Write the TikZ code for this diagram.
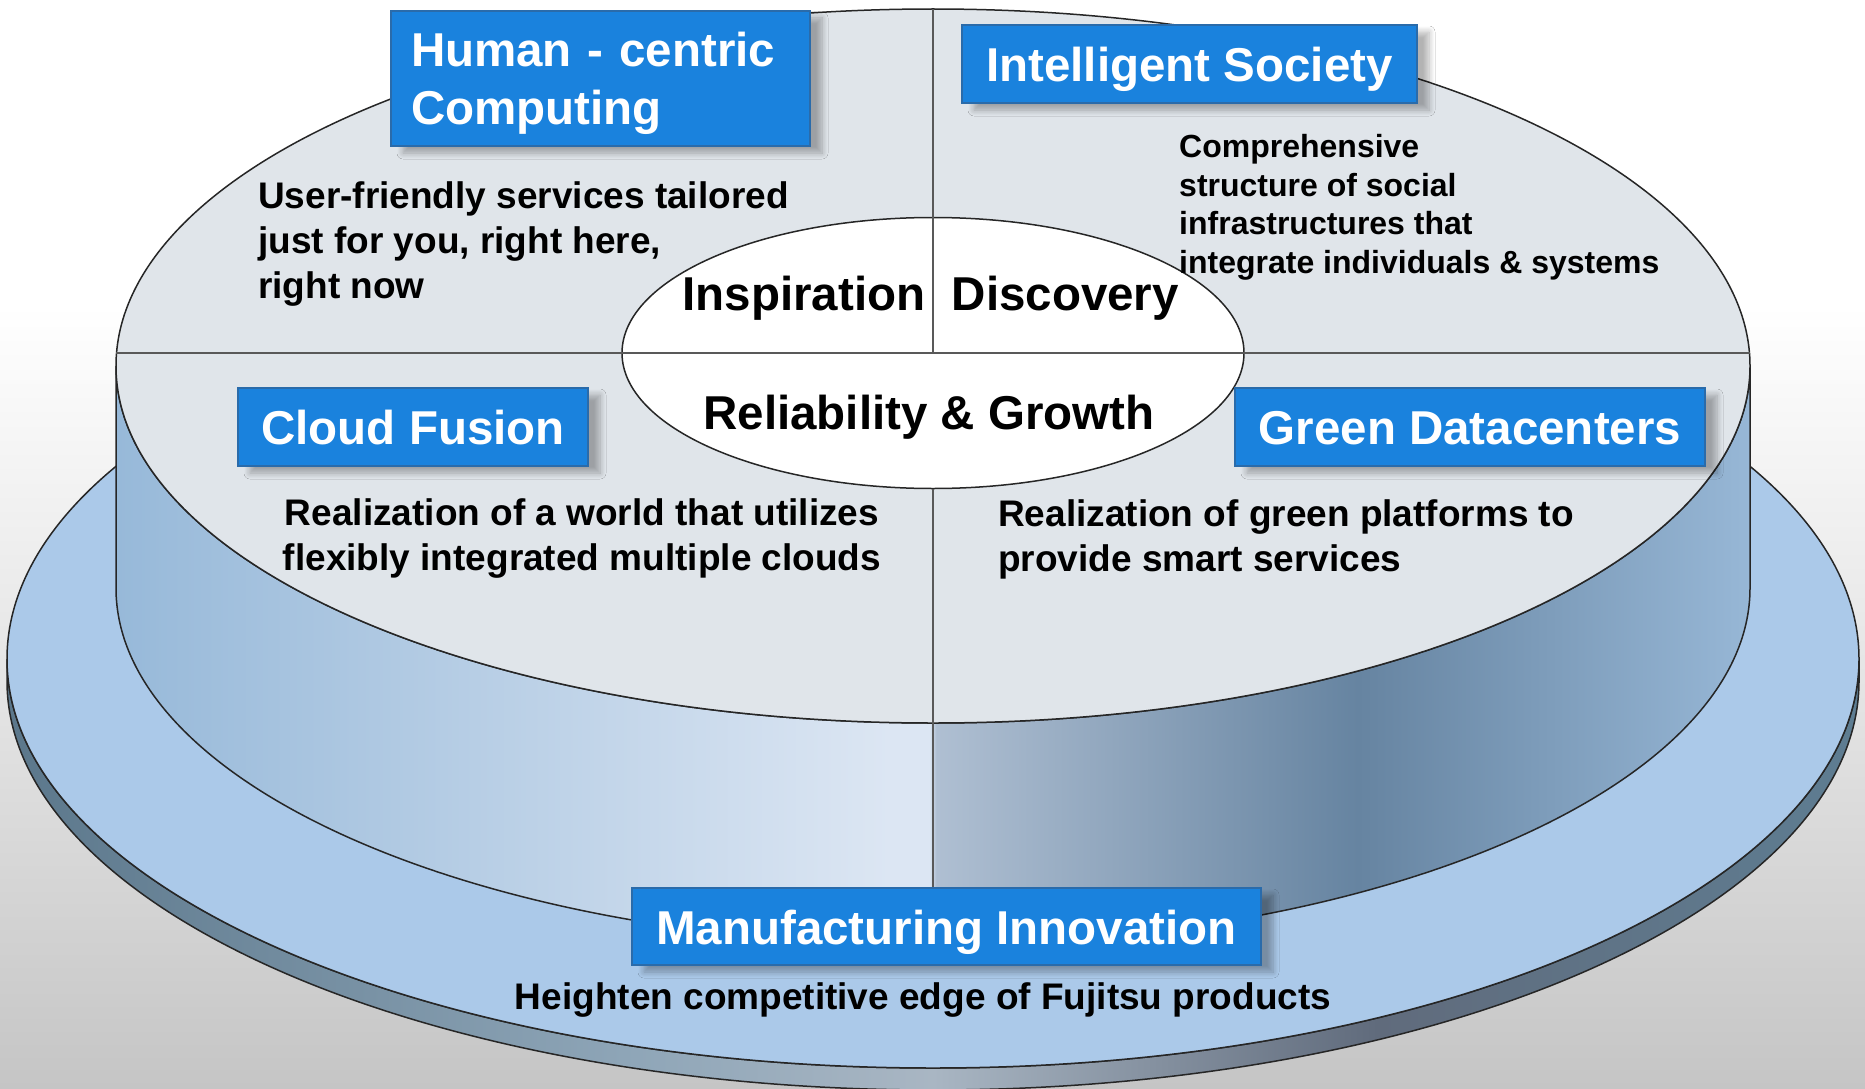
\documentclass[tikz,border=0pt]{standalone}
\usepackage{fontspec}
\setmainfont{Liberation Sans}
\usetikzlibrary{positioning,shadows.blur}

\definecolor{boxblue}{HTML}{1A82DD}
\definecolor{boxedge}{HTML}{2A6BAA}
\definecolor{facegray}{HTML}{E0E5EA}
\definecolor{diskblue}{HTML}{ABC9E9}
\definecolor{sideA}{HTML}{97B9D9}
\definecolor{sideB}{HTML}{DCE6F3}
\definecolor{sideC}{HTML}{AFBFD2}
\definecolor{sideD}{HTML}{6684A1}
\definecolor{sideE}{HTML}{97B7D6}
\definecolor{rimA}{HTML}{5B778B}
\definecolor{rimB}{HTML}{8FA6B8}
\definecolor{rimC}{HTML}{A9B6C3}
\definecolor{rimD}{HTML}{606B7C}
\definecolor{rimE}{HTML}{5E7D92}
\definecolor{bgB}{HTML}{E2E2E2}
\definecolor{bgC}{HTML}{C5C5C5}

\pgfdeclarehorizontalshading{sideshade}{100bp}{color(0bp)=(sideA); color(25bp)=(sideA); color(48.7bp)=(sideB); color(49.9bp)=(sideB); color(50.1bp)=(sideC); color(63bp)=(sideD); color(75bp)=(sideE); color(100bp)=(sideE)}
\pgfdeclarehorizontalshading{rimshade}{100bp}{color(0bp)=(rimA); color(25bp)=(rimA); color(42bp)=(rimB); color(50bp)=(rimC); color(62bp)=(rimD); color(75bp)=(rimE); color(100bp)=(rimE)}
\pgfdeclareverticalshading{bgshade}{100bp}{color(0bp)=(bgC); color(25bp)=(bgC); color(42bp)=(bgB); color(61bp)=(white); color(100bp)=(white)}

\newcommand{\ttlfont}{\fontsize{47.5}{58}\selectfont\bfseries}
\newcommand{\dscfont}{\fontsize{37}{45}\selectfont\bfseries}
\newcommand{\smlfont}{\fontsize{32}{38.5}\selectfont\bfseries}

\tikzset{
  rim/.style={draw=black!85,line width=1.5pt},
  sep/.style={draw=black!65,line width=2.5pt},
  ttl/.style={draw=boxedge,line width=1.5pt,fill=boxblue,text=white,font=\ttlfont,inner sep=0pt,
    blur shadow={shadow xshift=12pt,shadow yshift=-7pt,shadow opacity=30,shadow blur steps=8,shadow blur radius=6pt}},
  ttlone/.style={ttl,text height=45pt,text depth=10pt},
  dsc/.style={font=\dscfont,inner sep=0pt},
  sml/.style={font=\smlfont,inner sep=0pt,align=left},
  word/.style={font=\ttlfont,inner sep=0pt}
}

\begin{document}
\begin{tikzpicture}[x=1pt,y=1pt]
    \useasboundingbox (0,0) rectangle (1865,-1089);
    \shade[shading=bgshade] (0,0) rectangle (1865,-1089);
    % base disk
    \shadedraw[shading=rimshade,rim] (7,-659) -- (7,-681) arc[start angle=180,end angle=360,x radius=926,y radius=409]
        -- (1859,-659) arc[start angle=0,end angle=-180,x radius=926,y radius=409] -- cycle;
    \filldraw[fill=diskblue,rim] (933,-659) ellipse [x radius=926,y radius=409];
    % cylinder
    \shadedraw[shading=sideshade,rim] (116,-366) -- (116,-588) arc[start angle=180,end angle=360,x radius=817,y radius=357]
        -- (1750,-366) arc[start angle=0,end angle=-180,x radius=817,y radius=357] -- cycle;
    \filldraw[fill=facegray,rim] (933,-366) ellipse [x radius=817,y radius=357];
    \filldraw[fill=white,rim] (933,-353) ellipse [x radius=311,y radius=135.5];
    \coordinate (c) at (933,-353);
    \draw[sep] (116,-353) -- (1750,-353);
    \draw[sep] (933,-9) -- (c);
    \draw[sep] (933,-489) -- (933,-945);

    \node[word] (insp) at (804,-298) {Inspiration};
    \node[word,right=26pt of insp] (disc) {Discovery};
    \node[word] (relg) at (929,-417) {Reliability \& Growth};

    \node[ttl,minimum width=419pt,minimum height=135pt,text width=379pt,align=left] (hcc) at (600.5,-78.5) {\rule{0pt}{45pt}Human - centric\\Computing};
    \node[ttlone,minimum width=455pt,minimum height=78pt] (isoc) at (1189.5,-64) {Intelligent Society};
    \node[ttlone,minimum width=350pt,minimum height=78pt] (cfus) at (413,-427) {Cloud Fusion};
    \node[ttlone,minimum width=470pt,minimum height=78pt] (gdc) at (1470,-427) {Green Datacenters};
    \node[ttlone,minimum width=629pt,minimum height=77pt] (mfg) at (946.5,-926.5) {Manufacturing Innovation};

    \node[dsc,anchor=west,align=left] (hcctxt) at (258,-244.5) {User-friendly services tailored\\just for you, right here,\\right now};
    \node[sml,anchor=west] (isoctxt) at (1179,-207.5) {Comprehensive\\structure of social\\infrastructures that\\integrate individuals \& systems};
    \node[dsc,align=center] (cfustxt) at (582,-539) {Realization of a world that utilizes\\flexibly integrated multiple clouds};
    \node[dsc,anchor=west,align=left] (gdctxt) at (998,-539) {Realization of green platforms to\\provide smart services};
    \node[dsc] (mfgtxt) at (923,-1000) {Heighten competitive edge of Fujitsu products};
\end{tikzpicture}
\end{document}
